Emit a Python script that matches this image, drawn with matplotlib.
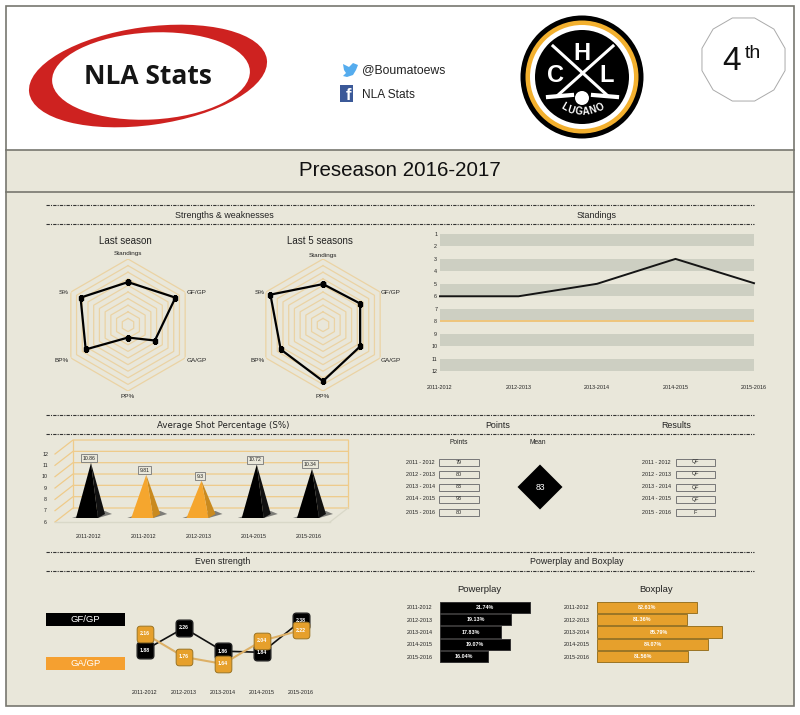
import matplotlib

matplotlib.use("Agg")
import matplotlib.pyplot as plt
import numpy as np
from matplotlib.patches import BoxStyle, Circle, Ellipse, Polygon, Rectangle

plt.rcParams["font.family"] = ["Liberation Sans", "DejaVu Sans"]

# data
seasons = ["2011-2012", "2012-2013", "2013-2014", "2014-2015", "2015-2016"]
seasons_spaced = ["2011 - 2012", "2012 - 2013", "2013 - 2014", "2014 - 2015", "2015 - 2016"]
radar_axes = ["Standings", "GF/GP", "GA/GP", "PP%", "BP%", "S%"]
radar_last = [6.5, 8.3, 4.7, 1.9, 7.4, 8.3]
radar_five = [6.2, 6.5, 6.5, 8.5, 7.4, 9.2]
ranks = list(range(1, 13))
standings = [6, 6, 5, 3, 4.95]
playoff_line = 8
shot_labels = ["2011-2012", "2011-2012", "2012-2013", "2014-2015", "2015-2016"]
shot_pct = [10.86, 9.81, 9.3, 10.72, 10.34]
shot_above_mean = [True, False, False, True, True]
points = [79, 80, 83, 93, 80]
points_mean = 83
results = ["QF", "QF", "QF", "QF", "F"]
gf_gp = [1.88, 2.26, 1.86, 1.84, 2.38]
ga_gp = [2.16, 1.76, 1.64, 2.04, 2.22]
powerplay = [21.74, 19.13, 17.83, 19.07, 16.04]
boxplay = [82.61, 81.36, 85.79, 84.07, 81.56]

BG = "#E9E7DA"
ORANGE = "#F5A62E"
BOX_ORANGE = "#E6A02C"
RING = "#EBD3A4"
BORDER = "#77776F"
TEXT = "#222222"

fig = plt.figure(figsize=(8, 7.15), dpi=100, facecolor="white")


def px_axes(x0, y0, x1, y1, **kwargs):
    ax = fig.add_axes([x0 / 800, 1 - y1 / 715, (x1 - x0) / 800, (y1 - y0) / 715], **kwargs)
    ax.patch.set_alpha(0)
    return ax


# page background, works in image pixels
page = px_axes(0, 0, 800, 715)
page.set_xlim(0, 800)
page.set_ylim(715, 0)
page.axis("off")

page.add_patch(Rectangle((6, 150), 788, 556, fc=BG, ec="none"))
page.add_patch(Rectangle((6, 6), 788, 700, fc="none", ec=BORDER, lw=1.2))
page.plot([6, 794], [150, 150], color=BORDER, lw=1.2)
page.plot([6, 794], [192, 192], color=BORDER, lw=1.2)
page.text(400, 171, "Preseason 2016-2017", fontsize=14.8, ha="center", va="center", color="#111111")

# nla logo
page.add_patch(Ellipse((148, 76), 240, 98, angle=-8, fc="#CE2220", ec="none"))
page.add_patch(Ellipse((151, 76), 198, 87, angle=-3, fc="white", ec="none"))
page.text(148, 76, "NLA Stats", fontsize=19, family="Open Sans", fontweight="bold",
          ha="center", va="center", color="#151515")

# social links
bird = [(343, 64), (349, 67), (353, 63), (358, 65), (356, 70), (353, 75), (347, 77), (343, 76),
        (346, 73), (344, 70)]
page.add_patch(Polygon(bird, fc="#55ACEE", ec="none"))
page.text(362, 70, "@Boumatoews", fontsize=8.8, ha="left", va="center", color=TEXT)
page.add_patch(Rectangle((340, 85), 13, 17, fc="#3B5998", ec="none"))
page.text(348, 95, "f", fontsize=12, fontweight="bold", ha="center", va="center", color="white")
page.text(362, 95, "NLA Stats", fontsize=8.6, ha="left", va="center", color=TEXT)

# club logo
for radius, col in [(61.5, "black"), (56.5, "#F3B02E"), (52, "white"), (47, "black")]:
    page.add_patch(Circle((582, 77), radius, fc=col, ec="none"))
page.plot([553, 608], [46, 96], color="white", lw=2.2)
page.plot([613, 557], [46, 96], color="white", lw=2.2)
page.plot([548, 572], [97, 95], color="white", lw=3)
page.plot([593, 617], [95, 97], color="white", lw=3)
page.add_patch(Circle((582, 98), 7, fc="white", ec="none"))
for x, y, letter in [(582, 53, "H"), (556, 76, "C"), (607, 76, "L")]:
    page.text(x, y, letter, fontsize=17, fontweight="bold", color="white", ha="center", va="center")
for k, letter in enumerate("LUGANO"):
    ang = 90 + 30 - k * 12
    rad = np.deg2rad(ang)
    page.text(582 + 36 * np.cos(rad), 76 + 36 * np.sin(rad), letter, fontsize=7, color="white",
              fontweight="bold", ha="center", va="center", rotation=90 - ang)

# rank badge
ang = np.deg2rad(np.arange(12) * 30 + 15)
page.add_patch(Polygon(np.c_[743.5 + 43 * np.cos(ang), 59.5 + 43 * np.sin(ang)], fc="white", ec="#AAAAAA", lw=0.7))
page.text(732, 62, "4", fontsize=24, ha="center", va="center", color="#111111")
page.text(753, 54, "th", fontsize=14, ha="center", va="center", color="#111111")

# section rules and headings
for y in [205, 224, 415, 434, 552, 571]:
    page.plot([46, 754], [y, y], color="#333333", lw=0.8, ls=(0, (3, 1, 1, 1)))
headings = [(224, 215, "Strengths & weaknesses"), (597, 215, "Standings"), (498, 425, "Points"),
            (676, 425, "Results"), (223, 562, "Even strength"), (577, 562, "Powerplay and Boxplay")]
for x, y, label in headings:
    page.text(x, y, label, fontsize=6.4, ha="center", va="center", color=TEXT)
page.text(223, 425, "Average Shot Percentage (S%)", fontsize=6.2, family="DejaVu Sans", ha="center", va="center", color=TEXT)

# radar charts
theta = np.deg2rad(np.arange(6) * 60)


def radar(cx, cy, title, title_x, values, label_pos):
    ax = px_axes(cx - 66, cy - 66, cx + 66, cy + 66, projection="polar")
    ax.set_theta_zero_location("N")
    ax.set_theta_direction(-1)
    ax.set_ylim(0, 10)
    ax.axis("off")
    closed = np.r_[theta, theta[0]]
    for level in range(1, 11):
        ax.plot(closed, [level] * 7, color=RING, lw=0.9)
    ax.plot(closed, values + values[:1], color="black", lw=1.6, marker="s", ms=3.2)
    page.text(title_x, 241, title, fontsize=7, ha="center", va="center", color=TEXT)
    for (x, y), label in zip(label_pos, radar_axes):
        page.text(x, y, label, fontsize=4.6, ha="center", va="center", color=TEXT)


radar(128, 325, "Last season", 125, radar_last,
      [(128, 254), (197, 292), (197, 360), (128, 397), (62, 360), (64, 292)])
radar(323, 325, "Last 5 seasons", 320, radar_five,
      [(323, 256), (391, 293), (391, 360), (323, 397), (258, 360), (260, 293)])

# standings
ax = px_axes(440, 234, 754, 371)
ax.set_xlim(0, 4)
ax.set_ylim(12, 1)
for top in ranks[::2]:
    ax.axhspan(top, top + 1, color="#CDCFC2", lw=0)
ax.axhline(playoff_line, color="#EFC57C", lw=1.4)
ax.plot(range(5), standings, color="#151515", lw=1.4, clip_on=False)
ax.set_xticks(range(5), seasons)
ax.set_yticks(ranks)
ax.tick_params(length=0, labelsize=3.9, labelcolor=TEXT)
ax.tick_params(axis="x", pad=10)
ax.tick_params(axis="y", pad=2)
for side in ax.spines.values():
    side.set_visible(False)

# pyramids, fake 3d drawn in value space
CAT_PX, VAL_PX = 55.25, 11.33
GRID_3D = "#EFCB8A"
ax = px_axes(30, 430, 370, 545)
ax.set_xlim((30 - 91) / CAT_PX, (370 - 91) / CAT_PX)
ax.set_ylim(6 - 23 / VAL_PX, 6 + 92 / VAL_PX)
ax.axis("off")
left, right = (55 - 91) / CAT_PX, (330 - 91) / CAT_PX
dx, dy = 18 / CAT_PX, 14 / VAL_PX
for v in range(6, 13):
    ax.plot([left, left + dx, right + dx], [v, v + dy, v + dy], color=GRID_3D, lw=0.9, zorder=1)
    ax.text(left - 10 / CAT_PX, v, str(v), fontsize=3.8, ha="center", va="center", color=TEXT)
ax.plot([right + dx, right + dx], [6 + dy, 12 + dy], color=GRID_3D, lw=0.9, zorder=1)
ax.plot([left + dx, left + dx], [6 + dy, 12 + dy], color=GRID_3D, lw=0.9, zorder=1)
ax.plot([right, right + dx], [6, 6 + dy], color="#D9D8C8", lw=0.9, zorder=1)
ax.plot([left, right], [6, 6], color="#D9D8C8", lw=1, zorder=1)
mid = 4 / VAL_PX
for i, value in enumerate(shot_pct):
    face = "black" if shot_above_mean[i] else ORANGE
    side = "#111111" if shot_above_mean[i] else "#C98A1F"
    x0, x1, x2 = i - 15 / CAT_PX, i + 7 / CAT_PX, i + 14 / CAT_PX
    base = 6 + mid
    ax.add_patch(Polygon([(x0 - 4 / CAT_PX, base), (x1, base), (x2 + 7 / CAT_PX, base + 4 / VAL_PX), (x2, base + 7 / VAL_PX), (x0 + 5 / CAT_PX, base + 3 / VAL_PX)],
                         fc="#444444", ec="none", alpha=0.65, zorder=2))
    ax.add_patch(Polygon([(x1, base), (x2, base + 4 / VAL_PX), (i, value + mid)], fc=side, ec="none", zorder=3))
    ax.add_patch(Polygon([(x0, base), (x1, base), (i, value + mid)], fc=face, ec="none", zorder=3))
    ax.text(i - 0.03, value + mid + 0.4, str(value), fontsize=3.7, ha="center", va="center", color=TEXT, zorder=4,
            bbox=dict(boxstyle="square,pad=0.3", fc=BG, ec="#777777", lw=0.6))
    ax.text(i - 0.05, 6 - 15 / VAL_PX, shot_labels[i], fontsize=3.9, ha="center", va="center", color=TEXT)

# points and results tables
row_y = [462, 474, 487, 499, 512]
for y, season, pts, res in zip(row_y, seasons_spaced, points, results):
    page.text(420, y, season, fontsize=3.9, ha="center", va="center", color=TEXT)
    page.add_patch(Rectangle((439, y - 3.5), 40, 7, fc=BG, ec="#777777", lw=0.7))
    page.text(459, y, str(pts), fontsize=3.9, ha="center", va="center", color=TEXT)
    page.text(656, y, season, fontsize=3.9, ha="center", va="center", color=TEXT)
    page.add_patch(Rectangle((676, y - 3.5), 39, 7, fc=BG, ec="#777777", lw=0.7))
    page.text(695.5, y, res, fontsize=3.9, ha="center", va="center", color=TEXT)
page.text(459, 443, "Points", fontsize=4.8, ha="center", va="center", color=TEXT)
page.text(538, 443, "Mean", fontsize=4.8, ha="center", va="center", color=TEXT)
page.add_patch(Polygon([(540, 464.5), (562.5, 487), (540, 509.5), (517.5, 487)], fc="black", ec="none"))
page.text(540, 487, str(points_mean), fontsize=6.2, color="white", ha="center", va="center")

# even strength
page.add_patch(Rectangle((46, 613), 79, 13, fc="black", ec="none"))
page.text(85.5, 619.5, "GF/GP", fontsize=6.8, color="white", ha="center", va="center")
page.add_patch(Rectangle((46, 657), 79, 13, fc="#F5A030", ec="none"))
page.text(85.5, 663.5, "GA/GP", fontsize=6.8, color="white", ha="center", va="center")

ax = px_axes(125, 600, 320, 680)
ax.set_xlim((125 - 145) / 39, (320 - 145) / 39)
ax.set_ylim(1.88 - 30 / 58, 1.88 + 50 / 58)
rounded = BoxStyle("Round", pad=0, rounding_size=0.2)(-0.5, -0.5, 1, 1, 1)
ax.plot(range(5), gf_gp, color="#111111", lw=1.2, marker=rounded, ms=12, mfc="black", mec="#222222", clip_on=False)
ax.plot(range(5), ga_gp, color="#DDB066", lw=1.5, marker=rounded, ms=12, mfc=BOX_ORANGE, mec="#9A7424", mew=0.7, clip_on=False)
for i in range(5):
    ax.text(i, gf_gp[i], f"{gf_gp[i]:.2f}", fontsize=3.7, fontweight="bold", color="white", ha="center", va="center")
    ax.text(i, ga_gp[i], f"{ga_gp[i]:.2f}", fontsize=3.7, fontweight="bold", color="white", ha="center", va="center")
ax.set_xticks(range(5), seasons)
ax.set_yticks([])
ax.tick_params(length=0, labelsize=3.9, labelcolor=TEXT, pad=7)
for side in ax.spines.values():
    side.set_visible(False)


# powerplay and boxplay bars
def bars(x0, x1, xmin, xmax, values, color, edge):
    ax = px_axes(x0, 601, x1, 663)
    ax.set_xlim(xmin, xmax)
    ax.set_ylim(4.5, -0.5)
    ax.barh(range(5), [v - xmin for v in values], left=xmin, height=0.9, color=color, edgecolor=edge, lw=0.7)
    for i, v in enumerate(values):
        ax.text((xmin + v) / 2, i, f"{v:.2f}%", fontsize=3.9, fontweight="bold", color="white", ha="center", va="center")
    ax.set_yticks(range(5), seasons)
    ax.set_xticks([])
    ax.tick_params(length=0, labelsize=3.9, labelcolor=TEXT, pad=5.5)
    for side in ax.spines.values():
        side.set_visible(False)


bars(440, 560, 9.53, 9.53 + 120 / 7.37, powerplay, "black", "#333333")
bars(597, 735, 70, 70 + 138 / 7.9, boxplay, BOX_ORANGE, "#9A7424")
page.text(479, 589, "Powerplay", fontsize=6.8, ha="center", va="center", color=TEXT)
page.text(656, 589, "Boxplay", fontsize=6.8, ha="center", va="center", color=TEXT)

fig.savefig("out.png", dpi=100, facecolor="white")
